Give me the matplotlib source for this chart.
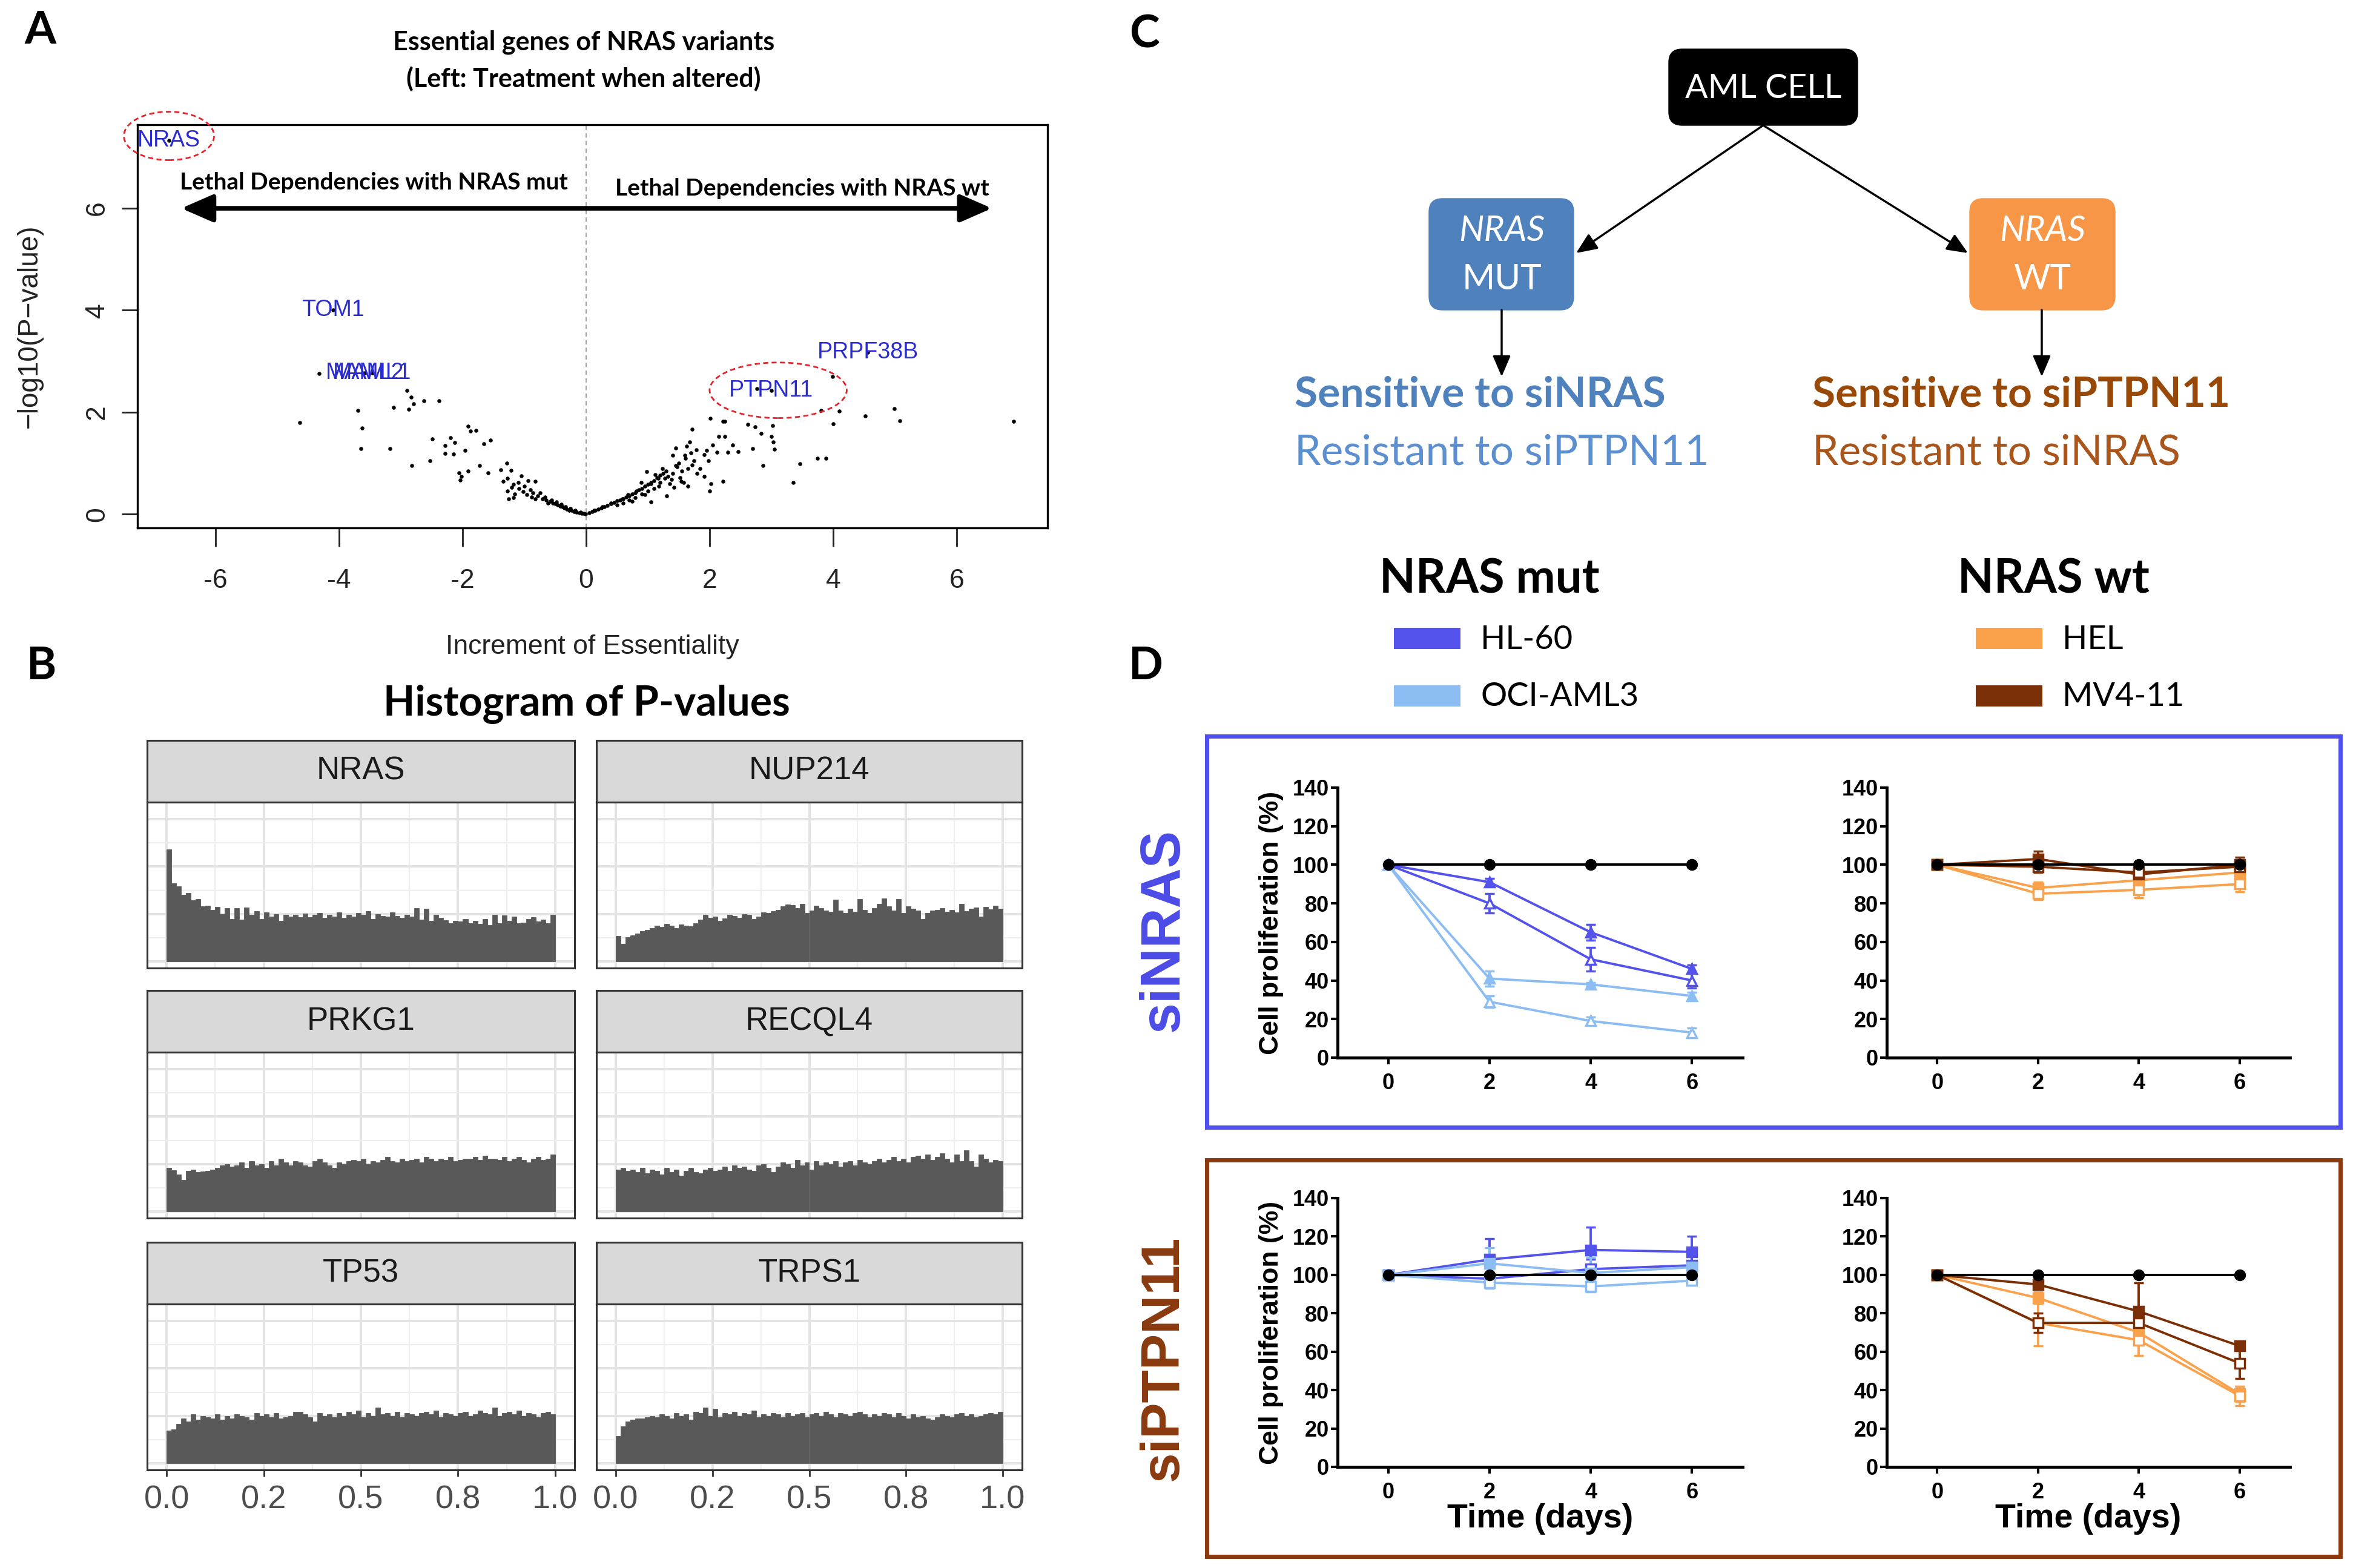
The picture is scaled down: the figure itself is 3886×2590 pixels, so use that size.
"""Four-panel NRAS figure: volcano, p-value histograms, schema and growth curves."""

import matplotlib

matplotlib.use("Agg")
import matplotlib.pyplot as plt
import numpy as np
from matplotlib.patches import Ellipse, FancyBboxPatch, Rectangle

W, H = 3886, 2590
SANS = ["Liberation Sans", "DejaVu Sans"]
NARROW = ["Liberation Sans Narrow", "Liberation Sans", "DejaVu Sans"]
CAL = ["Lato", "DejaVu Sans"]

plt.rcParams["font.family"] = SANS
plt.rcParams["axes.unicode_minus"] = False

# ---------------- Panel A: volcano data ----------------
volcano_points = [
    (-4.63, 1.80), (-4.32, 2.76), (-3.69, 2.04), (-3.62, 1.69), (-3.64, 1.29),
    (-3.17, 1.29), (-3.11, 2.09), (-2.90, 2.43), (-2.83, 2.30), (-2.79, 2.17),
    (-2.87, 2.06), (-2.62, 2.23), (-2.38, 2.22), (-2.82, 0.95), (-2.53, 1.05),
    (-2.49, 1.47), (-2.28, 1.35), (-2.19, 1.50), (-2.12, 1.40), (-2.28, 1.19),
    (-2.14, 1.18), (-1.96, 1.25), (-1.91, 1.72), (-1.87, 1.63), (-1.78, 1.64),
    (-1.65, 1.38), (-1.55, 1.45), (-1.72, 0.95), (-1.59, 0.81), (-2.06, 0.81),
    (-2.04, 0.67), (-1.91, 0.85), (-2.02, 0.74), (-1.38, 0.87), (-1.28, 1.00),
    (-1.21, 0.86), (-1.34, 0.64), (-1.27, 0.70), (-1.27, 0.46), (-1.25, 0.30),
    (-1.17, 0.32), (-1.05, 0.75), (-1.17, 0.58), (-1.09, 0.50), (-0.94, 0.66),
    (-0.82, 0.64), (-0.96, 0.38), (-0.82, 0.30), (-0.74, 0.42), (-0.66, 0.34),
    (-0.62, 0.22), (-1.10, 0.62), (-1.00, 0.55), (-0.90, 0.48), (-0.86, 0.42),
    (-0.78, 0.36), (-0.70, 0.30), (-0.64, 0.28), (-0.58, 0.25), (-0.54, 0.22),
    (-0.50, 0.20), (-0.46, 0.18), (-0.42, 0.16), (-0.38, 0.14), (-0.35, 0.12),
    (-0.31, 0.10), (-0.27, 0.08), (-0.23, 0.07), (-0.19, 0.05), (-0.15, 0.04),
    (-0.11, 0.03), (-0.07, 0.02), (-0.04, 0.01), (-0.01, 0.005), (-0.56, 0.28),
    (-0.48, 0.24), (-0.40, 0.19), (-0.33, 0.15), (-0.25, 0.11), (-0.17, 0.07),
    (-0.09, 0.04), (-1.02, 0.44), (-0.88, 0.34), (-1.15, 0.40), (-1.20, 0.52),
    (2.01, 1.88), (2.22, 1.82), (2.25, 1.82), (1.72, 1.67), (2.62, 1.76),
    (2.74, 1.71), (3.02, 1.74), (2.83, 1.58), (3.00, 1.52), (3.03, 1.42),
    (3.05, 1.27), (2.70, 1.29), (2.86, 0.95), (3.35, 0.62), (3.46, 0.99),
    (3.75, 1.09), (3.88, 1.10), (3.80, 2.03), (4.10, 2.02), (4.00, 1.77),
    (4.52, 1.93), (4.99, 2.07), (5.08, 1.83), (6.92, 1.82), (3.99, 2.70),
    (2.77, 2.46), (2.15, 1.52), (2.25, 1.52), (2.37, 1.36), (2.30, 1.22),
    (2.46, 1.23), (2.12, 1.22), (2.05, 1.36), (2.22, 0.65), (2.00, 0.45),
    (2.02, 0.60), (1.98, 1.05), (1.95, 1.25), (1.91, 1.17), (1.79, 1.26),
    (1.68, 1.42), (1.63, 1.33), (1.45, 1.30), (1.40, 1.15), (1.61, 1.09),
    (1.72, 0.97), (1.65, 0.89), (1.84, 0.89), (1.91, 0.74), (1.47, 0.93),
    (1.54, 0.64), (1.65, 0.55), (1.33, 0.74), (1.31, 0.36), (1.24, 0.89),
    (0.98, 0.83), (1.17, 0.70), (1.05, 0.60), (0.89, 0.62), (0.82, 0.45),
    (1.05, 0.24), (0.68, 0.38), (0.59, 0.30), (0.40, 0.22), (0.27, 0.14),
    (0.13, 0.08), (0.05, 0.03), (0.10, 0.05), (0.15, 0.08), (0.20, 0.10),
    (0.25, 0.12), (0.30, 0.15), (0.35, 0.17), (0.40, 0.20), (0.45, 0.23),
    (0.50, 0.26), (0.55, 0.28), (0.60, 0.30), (0.65, 0.33), (0.70, 0.36),
    (0.75, 0.40), (0.80, 0.42), (0.85, 0.48), (0.90, 0.50), (0.95, 0.55),
    (1.00, 0.58), (1.05, 0.62), (1.10, 0.66), (1.15, 0.72), (1.20, 0.76),
    (1.25, 0.80), (1.30, 0.85), (0.50, 0.18), (0.70, 0.28), (0.90, 0.40),
    (1.10, 0.50), (1.20, 0.62), (0.60, 0.22), (0.80, 0.32), (1.00, 0.46),
    (1.28, 0.70), (1.35, 0.60), (1.40, 0.80), (1.45, 0.95), (1.50, 1.00),
    (1.55, 0.85), (1.60, 1.15), (1.70, 1.20), (1.75, 1.05), (1.80, 0.80),
    (1.12, 0.78), (1.18, 0.55), (0.95, 0.38), (0.75, 0.25), (1.38, 0.68),
    (1.42, 0.52), (1.52, 0.72), (1.58, 0.62),
]
label_genes = ["NRAS", "TOM1", "MAML2", "MAML1", "PTPN11", "PRPF38B"]
label_x = [-6.75, -4.09, -3.58, -3.46, 3.00, 4.56]
label_y = [7.33, 4.00, 2.77, 2.77, 2.43, 3.18]
circled_genes = ["NRAS", "PTPN11"]

# ---------------- Panel B: p-value histograms (80 bins on [0, 1]) ----------------
hist_genes = ["NRAS", "NUP214", "PRKG1", "RECQL4", "TP53", "TRPS1"]
hist_nras = [
    474, 330, 318, 282, 290, 258, 262, 232, 236, 218,
    230, 200, 226, 178, 226, 176, 228, 196, 212, 178,
    206, 188, 200, 170, 196, 188, 196, 186, 202, 186,
    196, 205, 184, 196, 190, 208, 184, 196, 188, 205,
    196, 212, 180, 200, 192, 190, 206, 192, 184, 198,
    188, 226, 176, 222, 172, 196, 184, 174, 162, 170,
    168, 178, 160, 172, 158, 180, 154, 196, 162, 194,
    170, 188, 160, 164, 178, 186, 168, 176, 162, 196,
]
hist_nup214 = [
    107, 75, 102, 110, 118, 128, 134, 140, 150, 146,
    158, 152, 140, 156, 150, 148, 160, 176, 196, 184,
    188, 170, 182, 196, 192, 184, 200, 196, 180, 190,
    208, 205, 212, 216, 232, 240, 238, 226, 244, 204,
    215, 236, 226, 214, 210, 260, 215, 205, 222, 210,
    262, 216, 205, 226, 244, 266, 232, 215, 264, 204,
    232, 222, 215, 180, 204, 214, 216, 226, 210, 218,
    208, 244, 212, 222, 228, 190, 230, 220, 236, 222,
]
hist_prkg1 = [
    183, 174, 155, 132, 172, 177, 166, 168, 172, 177,
    183, 195, 200, 189, 195, 206, 183, 212, 195, 200,
    183, 212, 195, 223, 206, 195, 212, 206, 195, 189,
    212, 223, 206, 195, 183, 206, 200, 212, 217, 212,
    223, 200, 212, 206, 217, 229, 212, 206, 223, 212,
    217, 223, 206, 229, 223, 212, 223, 217, 229, 212,
    217, 223, 223, 229, 217, 235, 223, 223, 217, 229,
    212, 223, 229, 217, 206, 223, 229, 217, 223, 240,
]
hist_recql4 = [
    176, 183, 172, 177, 166, 183, 160, 177, 172, 155,
    183, 166, 177, 150, 172, 183, 166, 160, 177, 183,
    172, 177, 189, 172, 195, 183, 189, 177, 172, 195,
    200, 183, 166, 189, 206, 200, 183, 217, 195, 206,
    177, 212, 195, 206, 200, 212, 189, 206, 212, 195,
    217, 206, 200, 212, 223, 206, 217, 229, 212, 223,
    206, 229, 235, 223, 240, 217, 229, 246, 223, 206,
    240, 212, 258, 212, 189, 240, 223, 206, 217, 212,
]
hist_tp53 = [
    137, 143, 166, 189, 177, 206, 183, 200, 195, 189,
    206, 183, 200, 189, 206, 200, 195, 183, 212, 200,
    206, 195, 212, 189, 195, 200, 217, 217, 206, 195,
    177, 212, 200, 206, 195, 212, 200, 217, 206, 223,
    195, 212, 200, 235, 206, 212, 200, 217, 195, 212,
    206, 200, 212, 217, 206, 223, 195, 212, 206, 200,
    212, 217, 200, 206, 223, 212, 206, 235, 200, 212,
    217, 206, 223, 200, 212, 206, 195, 212, 217, 206,
]
hist_trps1 = [
    115, 155, 177, 183, 189, 189, 195, 200, 195, 206,
    200, 189, 212, 200, 206, 183, 217, 212, 235, 200,
    229, 195, 212, 206, 217, 200, 212, 206, 223, 195,
    206, 200, 212, 206, 195, 212, 200, 206, 212, 195,
    206, 212, 200, 217, 206, 195, 212, 206, 200, 212,
    217, 206, 195, 206, 200, 212, 206, 195, 212, 200,
    189, 206, 195, 200, 189, 183, 195, 206, 200, 195,
    206, 212, 200, 206, 195, 200, 206, 212, 206, 217,
]
hist_counts = [hist_nras, hist_nup214, hist_prkg1, hist_recql4, hist_tp53, hist_trps1]
hist_tick_pos = [0, 0.25, 0.5, 0.75, 1.0]
hist_tick_labels = ["0.0", "0.2", "0.5", "0.8", "1.0"]

# ---------------- Panel D: proliferation (% of control) ----------------
days = [0, 2, 4, 6]
control = [100, 100, 100, 100]

sinras_hl60_1 = [100, 91, 65, 46]
sinras_hl60_1_err = [1, 2, 4, 2]
sinras_hl60_2 = [100, 80, 51, 40]
sinras_hl60_2_err = [1, 5, 6, 4]
sinras_oci_1 = [100, 41, 38, 32]
sinras_oci_1_err = [1, 4, 1, 2]
sinras_oci_2 = [100, 29, 19, 13]
sinras_oci_2_err = [1, 3, 2, 2.5]

sinras_hel_1 = [100, 88, 92, 96]
sinras_hel_1_err = [1, 3, 3, 3]
sinras_hel_2 = [100, 85, 87, 90]
sinras_hel_2_err = [1, 3, 4, 4]
sinras_mv411_1 = [100, 103, 95, 100]
sinras_mv411_1_err = [1, 4, 2, 4]
sinras_mv411_2 = [100, 99, 96, 99]
sinras_mv411_2_err = [1, 3, 2, 2]

siptpn_hl60_1 = [100, 108, 113, 112]
siptpn_hl60_1_err = [2, 11, 12, 8]
siptpn_hl60_2 = [100, 98, 103, 105]
siptpn_hl60_2_err = [2, 3, 5, 5]
siptpn_oci_1 = [100, 106, 101, 104]
siptpn_oci_1_err = [1, 8, 8, 3]
siptpn_oci_2 = [100, 96, 94, 97]
siptpn_oci_2_err = [1, 3, 3, 2]

siptpn_hel_1 = [100, 88, 70, 38]
siptpn_hel_1_err = [2, 3, 5, 4]
siptpn_hel_2 = [100, 75, 66, 37]
siptpn_hel_2_err = [2, 12, 8, 5]
siptpn_mv411_1 = [100, 95, 81, 63]
siptpn_mv411_1_err = [1, 2, 15, 2]
siptpn_mv411_2 = [100, 75, 75, 54]
siptpn_mv411_2_err = [1, 5, 5, 8]

cell_lines = ["HL-60", "OCI-AML3", "HEL", "MV4-11"]
line_colors = {"HL-60": "#5353EC", "OCI-AML3": "#8CBDF2", "HEL": "#F9A24B", "MV4-11": "#7B2F06"}


def px_rect(left, top, right, bottom):
    return [left / W, 1 - bottom / H, (right - left) / W, (bottom - top) / H]


fig = plt.figure(figsize=(W / 100, H / 100), dpi=100)

# full-figure canvas in pixel units for the schema, frames and free text
cv = fig.add_axes([0, 0, 1, 1])
cv.set_xlim(0, W)
cv.set_ylim(H, 0)
cv.axis("off")

for letter, x, y in [("A", 66, 51), ("B", 69, 1100), ("C", 1890, 57), ("D", 1892, 1100)]:
    cv.text(x, y, letter, fontsize=54, fontweight="bold", family=CAL, ha="center", va="center")

# ---------------- Panel A ----------------
cv.text(964, 70, "Essential genes of NRAS variants", fontsize=31, fontweight="bold",
        family=CAL, ha="center", va="center")
cv.text(964, 130, "(Left: Treatment when altered)", fontsize=31, fontweight="bold",
        family=CAL, ha="center", va="center")

ax_a = fig.add_axes(px_rect(227, 206, 1730, 872))
vx, vy = zip(*volcano_points)
ax_a.scatter(vx, vy, s=22, color="black", lw=0, zorder=3)
ax_a.scatter(label_x, label_y, s=22, color="black", lw=0, zorder=3)
ax_a.axvline(0, color="#9a9a9a", ls=(0, (4, 3)), lw=1.3, zorder=1)
for gene, x, y in zip(label_genes, label_x, label_y):
    ax_a.text(x, y, gene, color="#2b2bd2", fontsize=27, ha="center", va="center", zorder=4)
    if gene in circled_genes:
        w, h = (1.46, 0.95) if gene == "NRAS" else (2.22, 1.09)
        dx = 0.0 if gene == "NRAS" else 0.11
        dy = 0.09 if gene == "NRAS" else 0.0
        ax_a.add_patch(Ellipse((x + dx, y + dy), w, h, fill=False, ec="#e3232c",
                               ls=(0, (3, 2)), lw=2, clip_on=False, zorder=5))

ax_a.annotate("", xy=(-6.55, 6.0), xytext=(6.57, 6.0),
              arrowprops=dict(arrowstyle="<|-|>,head_length=0.8,head_width=0.35",
                              lw=5.5, color="black", mutation_scale=40, shrinkA=0, shrinkB=0),
              zorder=4)
ax_a.text(-3.43, 6.51, "Lethal Dependencies with NRAS mut", fontsize=28, fontweight="bold",
          family=CAL, ha="center", va="center")
ax_a.text(3.50, 6.39, "Lethal Dependencies with NRAS wt", fontsize=28, fontweight="bold",
          family=CAL, ha="center", va="center")

ax_a.set_xlim(-7.26, 7.47)
ax_a.set_ylim(-0.27, 7.64)
ax_a.set_xticks([-6, -4, -2, 0, 2, 4, 6])
ax_a.set_xticklabels(["-6", "-4", "-2", "0", "2", "4", "6"])
ax_a.set_yticks([0, 2, 4, 6])
ax_a.set_yticklabels(["0", "2", "4", "6"], rotation=90, va="center")
ax_a.tick_params(axis="x", length=22, width=2, pad=26, labelsize=32, colors="#222222")
ax_a.tick_params(axis="y", length=19, width=2, pad=14, labelsize=32, colors="#222222")
for sp in ax_a.spines.values():
    sp.set_linewidth(2.4)
ax_a.set_xlabel("Increment of Essentiality", fontsize=32, color="#222222")
ax_a.xaxis.set_label_coords(0.5, -(1068 - 872) / 666)
ax_a.xaxis.label.set_va("center")
ax_a.set_ylabel("\u2212log10(P\u2212value)", fontsize=33, color="#222222")
ax_a.yaxis.set_label_coords(-(227 - 49) / 1503, 0.5)
ax_a.yaxis.label.set_va("center")

# ---------------- Panel B ----------------
cv.text(969, 1164, "Histogram of P-values", fontsize=49, fontweight="bold", family=CAL,
        ha="center", va="center")

col_edges = [(243, 949), (985, 1688)]
strip_rows = [(1223, 1325), (1636, 1738), (2052, 2154)]
panel_bottoms = [1599, 2012, 2428]
n_bins = len(hist_nras)
bin_left = np.arange(n_bins) / n_bins

for i, (gene, counts) in enumerate(zip(hist_genes, hist_counts)):
    r, c = divmod(i, 2)
    left, right = col_edges[c]
    s_top, s_bot = strip_rows[r]
    ax = fig.add_axes(px_rect(left, s_bot, right, panel_bottoms[r]))
    ax.bar(bin_left, counts, width=1 / n_bins, align="edge", color="#595959",
           ec="#595959", lw=0.6, zorder=2)
    ax.set_xlim(-0.05, 1.05)
    ax.set_ylim(-28, 672)
    ax.set_xticks(hist_tick_pos)
    ax.set_xticks([0.125, 0.375, 0.625, 0.875], minor=True)
    ax.set_yticks([0, 200, 400, 600])
    ax.set_yticks([100, 300, 500], minor=True)
    ax.grid(which="major", color="#E3E3E3", lw=2.8, zorder=0)
    ax.grid(which="minor", color="#EEEEEE", lw=1.6, zorder=0)
    ax.set_axisbelow(True)
    ax.tick_params(which="minor", length=0)
    ax.tick_params(axis="y", length=0, labelleft=False)
    if r == 2:
        ax.set_xticklabels(hist_tick_labels)
        ax.tick_params(axis="x", length=8, width=2, color="#333333", pad=10,
                       labelsize=39, labelcolor="#4D4D4D")
    else:
        ax.tick_params(axis="x", length=0, labelbottom=False)
    for sp in ax.spines.values():
        sp.set_color("#333333")
        sp.set_linewidth(2.2)

    sax = fig.add_axes(px_rect(left, s_top, right, s_bot))
    sax.set_facecolor("#D9D9D9")
    sax.set_xticks([])
    sax.set_yticks([])
    for sp in sax.spines.values():
        sp.set_color("#333333")
        sp.set_linewidth(2.2)
    sax.text(0.5, 0.5, gene, fontsize=38, color="#1A1A1A", ha="center", va="center",
             transform=sax.transAxes)

# ---------------- Panel C: schema ----------------
def rounded_box(x0, y0, x1, y1, color):
    cv.add_patch(FancyBboxPatch((x0, y0), x1 - x0, y1 - y0,
                                boxstyle="round,pad=0,rounding_size=22",
                                fc=color, ec=color, lw=1))


rounded_box(2756, 81, 3068, 207, "black")
cv.text(2912, 147, "AML CELL", color="white", fontsize=40, family=CAL, ha="center", va="center")
rounded_box(2360, 328, 2599, 512, "#4F81BD")
cv.text(2480, 382, "NRAS", color="white", fontsize=42, family=CAL, style="italic",
        ha="center", va="center")
cv.text(2480, 461, "MUT", color="white", fontsize=42, family=CAL, ha="center", va="center")
rounded_box(3253, 328, 3493, 512, "#F79646")
cv.text(3373, 382, "NRAS", color="white", fontsize=42, family=CAL, style="italic",
        ha="center", va="center")
cv.text(3373, 461, "WT", color="white", fontsize=42, family=CAL, ha="center", va="center")

arrow_kw = dict(arrowstyle="-|>,head_length=0.7,head_width=0.3", lw=2.5, color="black",
                mutation_scale=30, shrinkA=0, shrinkB=0)
cv.annotate("", xy=(2603, 418), xytext=(2912, 207), arrowprops=arrow_kw)
cv.annotate("", xy=(3250, 418), xytext=(2912, 207), arrowprops=arrow_kw)
cv.annotate("", xy=(2480, 622), xytext=(2480, 512), arrowprops=arrow_kw)
cv.annotate("", xy=(3372, 622), xytext=(3372, 512), arrowprops=arrow_kw)

cv.text(2138, 652, "Sensitive to siNRAS", color="#4F81BD", fontsize=50, fontweight="bold",
        family=CAL, ha="left", va="center")
cv.text(2138, 748, "Resistant to siPTPN11", color="#5B8FD0", fontsize=50, family=CAL,
        ha="left", va="center")
cv.text(2993, 652, "Sensitive to siPTPN11", color="#984807", fontsize=50, fontweight="bold",
        family=CAL, ha="left", va="center")
cv.text(2993, 748, "Resistant to siNRAS", color="#A8561C", fontsize=50, family=CAL,
        ha="left", va="center")

# ---------------- Panel D: legend and frames ----------------
cv.text(2460, 957, "NRAS mut", fontsize=56, fontweight="bold", family=CAL, ha="center", va="center")
cv.text(3391, 957, "NRAS wt", fontsize=56, fontweight="bold", family=CAL, ha="center", va="center")
legend_slots = [(2302, 1037), (2302, 1132), (3263, 1037), (3263, 1132)]
for name, (lx, ly) in zip(cell_lines, legend_slots):
    cv.add_patch(Rectangle((lx, ly), 110, 35, fc=line_colors[name], ec="none"))
    cv.text(lx + 143, ly + 19, name, fontsize=39, family=CAL, ha="left", va="center")

cv.add_patch(Rectangle((1993, 1216), 3865 - 1993, 1862 - 1216, fill=False,
                       ec="#5050F0", lw=5))
cv.add_patch(Rectangle((1993, 1916), 3865 - 1993, 2571 - 1916, fill=False,
                       ec="#8B3A0F", lw=5))
cv.text(1922, 1536, "siNRAS", rotation=90, fontsize=66, fontweight="bold",
        color="#4B4BE6", ha="center", va="center")
cv.text(1922, 2243, "siPTPN11", rotation=90, fontsize=64, fontweight="bold",
        color="#8A3A0E", ha="center", va="center")

growth_panels = [
    ((2209, 1301, 2878, 1747), [
        (sinras_hl60_1, sinras_hl60_1_err, "HL-60", "^", True),
        (sinras_hl60_2, sinras_hl60_2_err, "HL-60", "^", False),
        (sinras_oci_1, sinras_oci_1_err, "OCI-AML3", "^", True),
        (sinras_oci_2, sinras_oci_2_err, "OCI-AML3", "^", False),
    ], True, False),
    ((3116, 1301, 3782, 1747), [
        (sinras_hel_1, sinras_hel_1_err, "HEL", "s", True),
        (sinras_hel_2, sinras_hel_2_err, "HEL", "s", False),
        (sinras_mv411_1, sinras_mv411_1_err, "MV4-11", "s", True),
        (sinras_mv411_2, sinras_mv411_2_err, "MV4-11", "s", False),
    ], False, False),
    ((2209, 1979, 2878, 2423), [
        (siptpn_hl60_1, siptpn_hl60_1_err, "HL-60", "s", True),
        (siptpn_hl60_2, siptpn_hl60_2_err, "HL-60", "s", False),
        (siptpn_oci_1, siptpn_oci_1_err, "OCI-AML3", "s", True),
        (siptpn_oci_2, siptpn_oci_2_err, "OCI-AML3", "s", False),
    ], True, True),
    ((3116, 1979, 3782, 2423), [
        (siptpn_hel_1, siptpn_hel_1_err, "HEL", "s", True),
        (siptpn_hel_2, siptpn_hel_2_err, "HEL", "s", False),
        (siptpn_mv411_1, siptpn_mv411_1_err, "MV4-11", "s", True),
        (siptpn_mv411_2, siptpn_mv411_2_err, "MV4-11", "s", False),
    ], False, True),
]

for box, series, show_ylabel, show_xlabel in growth_panels:
    ax = fig.add_axes(px_rect(*box))
    ax.set_facecolor("none")
    for vals, errs, name, marker, filled in series:
        col = line_colors[name]
        ax.errorbar(days, vals, yerr=errs, color=col, marker=marker, ms=12,
                    mfc=col if filled else "white", mec=col, mew=2.5, lw=2.8,
                    elinewidth=2.8, capsize=6, capthick=2.8, zorder=3)
    ax.plot(days, control, color="black", marker="o", ms=13, lw=2.8, zorder=4)
    ax.set_xlim(-1, 7)
    ax.set_ylim(0, 140)
    ax.set_xticks(days)
    ax.set_yticks(range(0, 141, 20))
    for side in ("top", "right"):
        ax.spines[side].set_visible(False)
    for side in ("left", "bottom"):
        ax.spines[side].set_linewidth(3.5)
    ax.tick_params(axis="x", length=8, width=3, pad=10)
    ax.tick_params(axis="y", length=8, width=3, pad=2)
    for lab in ax.get_xticklabels() + ax.get_yticklabels():
        lab.set_fontfamily(NARROW)
        lab.set_fontweight("bold")
        lab.set_fontsize(26)
    if show_ylabel:
        ax.set_ylabel("Cell proliferation (%)", fontsize=32, fontweight="bold")
        ax.yaxis.set_label_coords(-(2209 - 2100) / 669, 0.5)
        ax.yaxis.label.set_va("center")
    if show_xlabel:
        ax.set_xlabel("Time (days)", fontsize=40, fontweight="bold")
        ax.xaxis.set_label_coords(0.5, -86 / 444)
        ax.xaxis.label.set_va("center")

fig.savefig("out.png", dpi=100)
